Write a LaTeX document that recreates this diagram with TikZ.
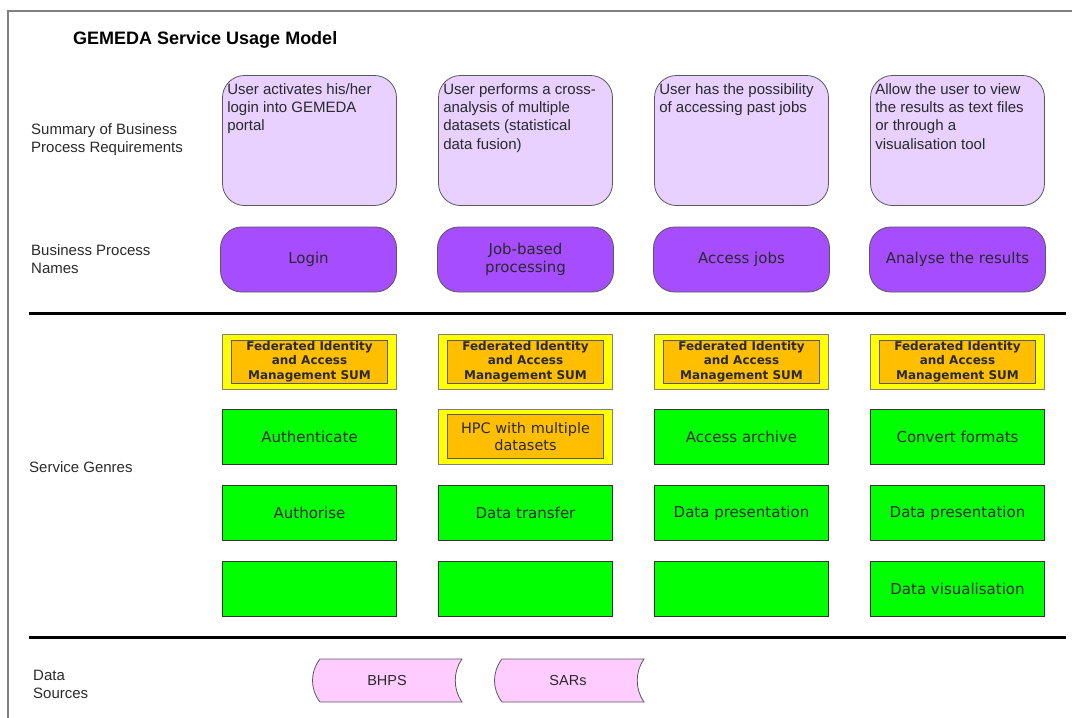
\documentclass[tikz,border=0pt]{standalone}
\usepackage{fontspec}
\setmainfont{Liberation Sans}
\newfontfamily\verd{DejaVu Sans}
\definecolor{sumfill}{HTML}{E8D0FF}
\definecolor{bpfill}{HTML}{A64DFF}
\definecolor{yel}{HTML}{FFFF00}
\definecolor{ora}{HTML}{FFBF00}
\definecolor{grn}{HTML}{00FF00}
\definecolor{pnk}{HTML}{FFCCFF}
\definecolor{txt}{HTML}{2A2A2A}
\begin{document}
\begin{tikzpicture}[x=1pt,y=-1pt,
  lbl/.style={anchor=west, align=left, inner sep=0, text=txt, font=\fontsize{15}{18}\selectfont},
  sumbox/.style={draw=black!65, fill=sumfill, rounded corners=22pt, minimum width=174pt, minimum height=130pt, line width=0.8pt, inner sep=0},
  sumtext/.style={anchor=north west, align=left, inner sep=0, text=txt, font=\fontsize{15}{18.3}\selectfont},
  bpbox/.style={draw=black!65, fill=bpfill, rounded corners=21pt, minimum width=176pt, minimum height=65pt, line width=0.8pt, inner sep=0, align=center, text=txt, font=\verd\fontsize{15}{18}\selectfont},
  fiout/.style={draw=black!50, fill=yel, minimum width=174pt, minimum height=55pt, line width=0.8pt, inner sep=0},
  fiin/.style={draw=black!65, fill=ora, minimum width=156pt, minimum height=43pt, line width=0.8pt, inner sep=0, align=center, text=txt, font=\verd\bfseries\fontsize{12}{14.5}\selectfont},
  hpcin/.style={draw=black!65, fill=ora, minimum width=156pt, minimum height=44pt, line width=0.8pt, inner sep=0, align=center, text=txt, font=\verd\fontsize{14.5}{17.6}\selectfont},
  gbox/.style={draw=black!80, fill=grn, minimum width=174pt, minimum height=55pt, line width=0.8pt, inner sep=0, align=center, text=txt, font=\verd\fontsize{15}{18}\selectfont},
  dsrc/.style={draw=black!65, fill=pnk, line width=0.8pt},
  dtext/.style={text=txt, font=\fontsize{14.5}{17}\selectfont},
  sep/.style={line width=3pt, black}
]
\useasboundingbox (0,0) rectangle (1072,718);
% frame
\draw[line width=2pt, black!50] (8,718) -- (8,11) -- (1072,11);
% title
\node[anchor=west, inner sep=0, text=black, font=\bfseries\fontsize{18}{20}\selectfont] (title) at (73,40) {GEMEDA Service Usage Model};
% left labels
\node[lbl] (l1) at (31,140) {Summary of Business\\Process Requirements};
\node[lbl] (l2) at (31,259) {Business Process\\Names};
\node[lbl] (l3) at (29,467) {Service Genres};
\node[lbl] (l4) at (33,684) {Data\\Sources};
% separators
\coordinate (sepA1) at (29,313); \coordinate (sepA2) at (1066,313);
\coordinate (sepB1) at (29,637); \coordinate (sepB2) at (1066,637);
\draw[sep] (sepA1) -- (sepA2);
\draw[sep] (sepB1) -- (sepB2);
% summary boxes
\node[sumbox] (s1) at (309.5,140.5) {};
\node[sumbox] (s2) at (525.5,140.5) {};
\node[sumbox] (s3) at (741.5,140.5) {};
\node[sumbox] (s4) at (957.5,140.5) {};
\node[sumtext] (s1t) at ([xshift=5pt,yshift=-8pt]s1.north west) {User activates his/her\\login into GEMEDA\\portal};
\node[sumtext] (s2t) at ([xshift=5pt,yshift=-8pt]s2.north west) {User performs a cross-\\analysis of multiple\\datasets (statistical\\data fusion)};
\node[sumtext] (s3t) at ([xshift=5pt,yshift=-8pt]s3.north west) {User has the possibility\\of accessing past jobs};
\node[sumtext] (s4t) at ([xshift=5pt,yshift=-8pt]s4.north west) {Allow the user to view\\the results as text files\\or through a\\visualisation tool};
% business process names
\node[bpbox] (b1) at (308.5,259.5) {Login};
\node[bpbox] (b2) at (525.5,259.5) {Job-based\\processing};
\node[bpbox] (b3) at (741.5,259.5) {Access jobs};
\node[bpbox] (b4) at (957.5,259.5) {Analyse the results};
% FIAM
\foreach \n/\x in {1/309.5,2/525.5,3/741.5,4/957.5}{
  \node[fiout] (f\n) at (\x,361.5) {};
  \node[fiin] (f\n i) at (f\n) {Federated Identity\\and Access\\Management SUM};
}
% row 4
\node[gbox] (g41) at (309.5,436.5) {Authenticate};
\node[fiout] (g42) at (525.5,436.5) {};
\node[hpcin] (g42i) at (g42) {HPC with multiple\\datasets};
\node[gbox] (g43) at (741.5,436.5) {Access archive};
\node[gbox] (g44) at (957.5,436.5) {Convert formats};
% row 5
\node[gbox] (g51) at (309.5,513) {Authorise};
\node[gbox] (g52) at (525.5,513) {Data transfer};
\node[gbox] (g53) at (741.5,513) {Data presentation};
\node[gbox] (g54) at (957.5,513) {Data presentation};
% row 6
\node[gbox] (g61) at (309.5,588.5) {};
\node[gbox] (g62) at (525.5,588.5) {};
\node[gbox] (g63) at (741.5,588.5) {};
\node[gbox] (g64) at (957.5,588.5) {Data visualisation};
% data sources
\coordinate (d1) at (387,680.5);
\coordinate (d2) at (569,680.5);
\foreach \d in {d1,d2}{
  \draw[dsrc, shift={(\d)}] (-67,-21.5) -- (75,-21.5) .. controls (66,-9) and (66,9) .. (75,21.5) -- (-67,21.5) .. controls (-77,9) and (-77,-9) .. (-67,-21.5) -- cycle;
}
\node[dtext] (d1t) at (d1) {BHPS};
\node[dtext] (d2t) at ([xshift=-1pt]d2) {SARs};
\end{tikzpicture}
\end{document}
